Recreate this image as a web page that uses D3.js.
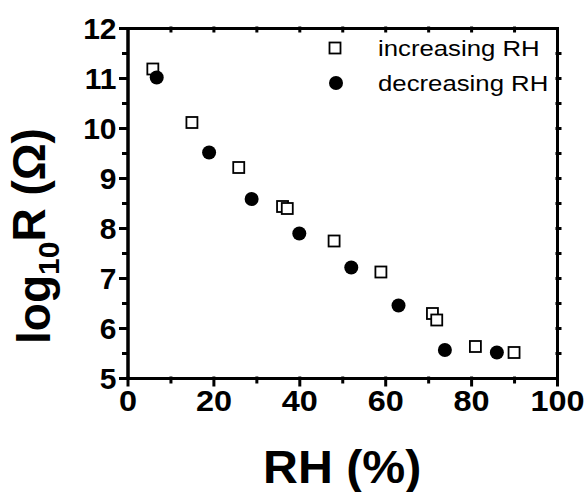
<!DOCTYPE html>
<html>
<head>
<meta charset="utf-8">
<script src="https://cdn.jsdelivr.net/npm/d3@7"></script>
<style>
  body { margin: 0; background: #fff; }
  text { font-family: "Liberation Sans", Arial, sans-serif; fill: #000; }
</style>
</head>
<body>
<div id="chart"></div>
<script>
// data
var incRH  = [5.9, 15.0, 25.9, 36.1, 37.2, 48.1, 59.0, 71.0, 72.0, 81.0, 90.0];
var incLog = [11.18, 10.11, 9.21, 8.43, 8.39, 7.74, 7.12, 6.29, 6.16, 5.63, 5.51];
var decRH  = [6.8, 19.0, 28.9, 40.0, 52.1, 63.1, 73.9, 86.0];
var decLog = [11.01, 9.51, 8.58, 7.89, 7.21, 6.45, 5.56, 5.51];
var xTicks = [0, 20, 40, 60, 80, 100];
var yTicks = [5, 6, 7, 8, 9, 10, 11, 12];
var legendLabels = ["increasing RH", "decreasing RH"];

var width = 587, height = 492;
var margin = {top: 28, right: 30, bottom: 114, left: 127.5};

var svg = d3.select("#chart")
  .append("svg")
    .attr("width", width)
    .attr("height", height);

var x = d3.scaleLinear().domain([0, 100]).range([margin.left, width - margin.right]);
var y = d3.scaleLinear().domain([5, 12]).range([height - margin.bottom, margin.top]);

var minorX = d3.range(10, 100, 20);
var minorY = d3.range(5.5, 12, 1);

// bottom axis
var xAxis = svg.append("g")
  .attr("transform", "translate(0," + y(5) + ")")
  .call(d3.axisBottom(x).tickValues(xTicks).tickSize(7).tickSizeOuter(0).tickPadding(5).tickFormat(d3.format("d")));
svg.append("g")
  .attr("transform", "translate(0," + y(5) + ")")
  .call(d3.axisBottom(x).tickValues(minorX).tickSize(4).tickSizeOuter(0).tickFormat(""));

// left axis
var yAxis = svg.append("g")
  .attr("transform", "translate(" + x(0) + ",0)")
  .call(d3.axisLeft(y).tickValues(yTicks).tickSize(7).tickSizeOuter(0).tickPadding(4).tickFormat(d3.format("d")));
svg.append("g")
  .attr("transform", "translate(" + x(0) + ",0)")
  .call(d3.axisLeft(y).tickValues(minorY).tickSize(4).tickSizeOuter(0).tickFormat(""));

// top and right frame with small ticks
svg.append("g")
  .attr("transform", "translate(0," + y(12) + ")")
  .call(d3.axisTop(x).tickValues(d3.range(10, 100, 10)).tickSize(-3).tickSizeOuter(0).tickFormat(""));
svg.append("g")
  .attr("transform", "translate(" + x(100) + ",0)")
  .call(d3.axisRight(y).tickValues(d3.range(5.5, 12, 0.5)).tickSize(3).tickSizeOuter(0).tickFormat(""));

svg.selectAll(".domain, .tick line")
  .attr("stroke", "#000")
  .attr("stroke-width", 3)
  .attr("stroke-linecap", "square");

xAxis.selectAll(".tick text")
  .style("font-size", "30px")
  .style("font-weight", "bold")
  .attr("transform", "scale(1.08,1)");

yAxis.selectAll(".tick text")
  .style("font-size", "30px")
  .style("font-weight", "bold")
  .attr("dy", "0.36em");

// points
var incData = incRH.map(function(d, i) { return {rh: d, v: incLog[i]}; });
var decData = decRH.map(function(d, i) { return {rh: d, v: decLog[i]}; });

var sq = 11;
svg.append("g").selectAll("rect")
  .data(incData)
  .enter()
  .append("rect")
    .attr("x", function(d) { return x(d.rh) - sq / 2; })
    .attr("y", function(d) { return y(d.v) - sq / 2; })
    .attr("width", sq)
    .attr("height", sq)
    .attr("fill", "#fff")
    .attr("stroke", "#000")
    .attr("stroke-width", 1.8);

svg.append("g").selectAll("circle")
  .data(decData)
  .enter()
  .append("circle")
    .attr("cx", function(d) { return x(d.rh); })
    .attr("cy", function(d) { return y(d.v); })
    .attr("r", 7)
    .attr("fill", "#000");

// legend
var legend = svg.append("g");
legend.append("rect")
  .attr("x", 335 - sq / 2).attr("y", 48 - sq / 2)
  .attr("width", sq).attr("height", sq)
  .attr("fill", "#fff").attr("stroke", "#000").attr("stroke-width", 1.8);
legend.append("circle")
  .attr("cx", 336).attr("cy", 83).attr("r", 7).attr("fill", "#000");
legend.selectAll("text")
  .data(legendLabels)
  .enter()
  .append("text")
    .attr("transform", function(d, i) { return "translate(378," + (56 + i * 35) + ") scale(1.12,1)"; })
    .style("font-size", "23px")
    .text(function(d) { return d; });

// axis titles
svg.append("text")
  .attr("transform", "translate(" + ((x(0) + x(100)) / 2) + ",483) scale(1.05,1)")
  .attr("text-anchor", "middle")
  .style("font-size", "46px")
  .style("font-weight", "bold")
  .text("RH (%)");

var yTitle = svg.append("text")
  .attr("transform", "translate(50,236) rotate(-90)")
  .attr("text-anchor", "middle")
  .style("font-size", "46px")
  .style("font-weight", "bold");
yTitle.append("tspan").text("log");
yTitle.append("tspan").attr("dy", "0.3em").style("font-size", "30px").text("10");
yTitle.append("tspan").attr("dy", "-0.3em").text("R (Ω)");
</script>
</body>
</html>
